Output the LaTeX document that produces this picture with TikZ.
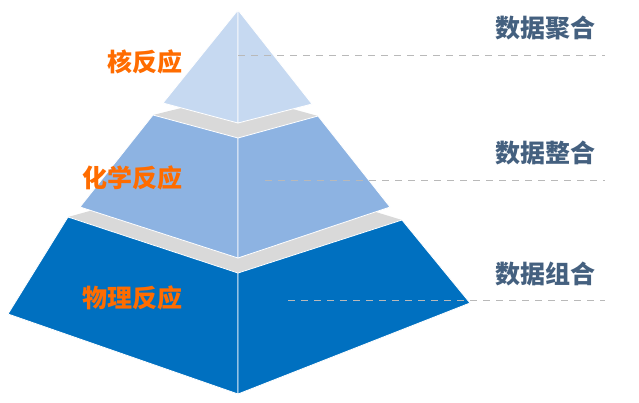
\documentclass[tikz,border=0pt]{standalone}
\usepackage{fontspec}
\newfontfamily\cjk{Noto Sans CJK SC}
\begin{document}
\begin{tikzpicture}[x=1pt,y=-1pt,
  face/.style={draw=white,line width=0.8pt,line join=round},
  lbl/.style={font=\cjk\bfseries\fontsize{25}{25}\selectfont,text=orange!85!red,anchor=center,inner sep=0},
  rlbl/.style={font=\cjk\bfseries\fontsize{25}{25}\selectfont,text=rlcol,anchor=center,inner sep=0},
  dashline/.style={draw=gray!55,line width=1pt,dash pattern=on 7pt off 6pt}]
\definecolor{c1}{HTML}{C6D9F1}\definecolor{c2}{HTML}{8DB3E2}\definecolor{c3}{HTML}{0070C0}
\definecolor{gy}{HTML}{D9D9D9}\definecolor{rlcol}{HTML}{44607F}
\useasboundingbox (0,0) rectangle (639,402);
% bottom tier
\fill[gy] (68,217) -- (238,170) -- (402,220) -- (238,273) -- cycle;
\path[face,fill=c3] (68,217) -- (238,273) -- (238,394) -- (8,314) -- cycle;
\path[face,fill=c3] (238,273) -- (402,220) -- (470,303) -- (238,394) -- cycle;
% middle tier
\fill[gy] (153,115) -- (238,94) -- (318,116) -- (238,138) -- cycle;
\path[face,fill=c2] (153,115) -- (238,138) -- (238,258) -- (80,207) -- cycle;
\path[face,fill=c2] (238,138) -- (318,116) -- (390,207) -- (238,258) -- cycle;
% top tier
\path[face,fill=c1] (238,10) -- (238,123) -- (163,103) -- cycle;
\path[face,fill=c1] (238,10) -- (312,104) -- (238,123) -- cycle;
% dashed lines
\coordinate (d1a) at (238,55); \coordinate (d1b) at (605,55);
\coordinate (d2a) at (265,180); \coordinate (d2b) at (605,180);
\coordinate (d3a) at (288,300); \coordinate (d3b) at (605,300);
\draw[dashline] (d1a) -- (d1b); \draw[dashline] (d2a) -- (d2b); \draw[dashline] (d3a) -- (d3b);
% labels
\node[lbl] (l1) at (145,62) {核反应};
\node[lbl] (l2) at (132,178) {化学反应};
\node[lbl] (l3) at (132,298) {物理反应};
\node[rlbl] (r1) at (545,28) {数据聚合};
\node[rlbl] (r2) at (545,153) {数据整合};
\node[rlbl] (r3) at (545,274) {数据组合};
\end{tikzpicture}
\end{document}
